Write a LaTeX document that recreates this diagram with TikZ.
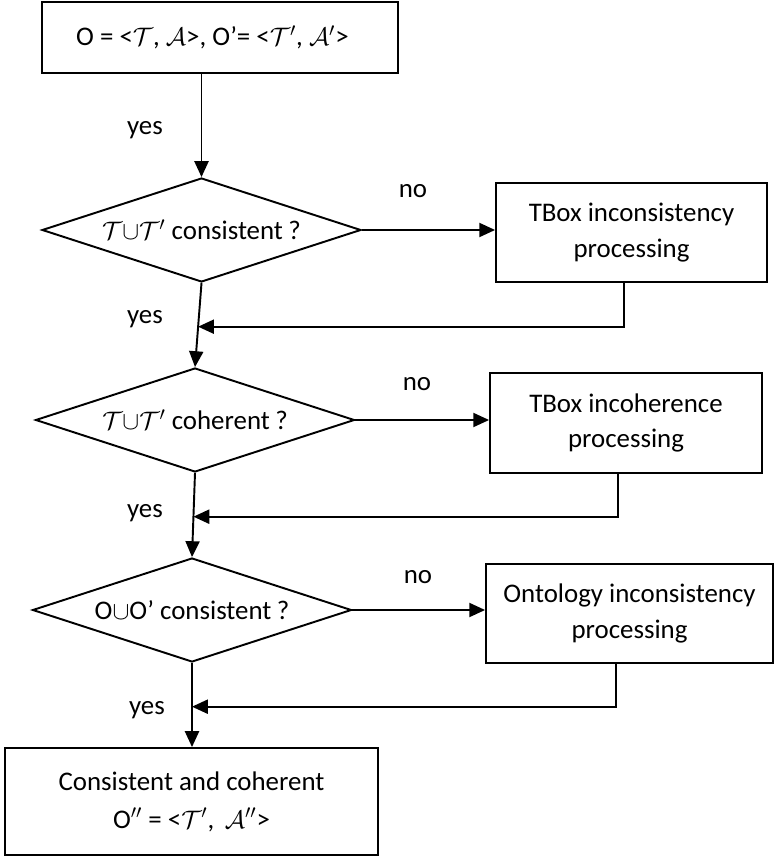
\documentclass[tikz,border=0pt]{standalone}
\usepackage{fontspec}
\setmainfont{Carlito}
\usetikzlibrary{shapes.geometric,arrows.meta,calc}

\tikzset{
  box/.style={draw, line width=1.1pt, align=center, inner sep=0pt},
  decision/.style={draw, diamond, aspect=3, inner sep=0pt, line width=1.1pt,
    minimum width=6.38cm, minimum height=2.08cm},
  flow/.style={line width=1.1pt, -{Triangle[length=9pt,width=8pt]}},
  tag/.style={inner sep=0pt}
}

\begin{document}
\begin{tikzpicture}[x=0.02cm, y=-0.02cm, font=\fontsize{15.3}{20}\selectfont]

\useasboundingbox (0,0) rectangle (777,857);

% Start and result boxes
\node[box, minimum width=7.12cm, minimum height=1.42cm] (start) at (220,37.5)
  {O = <$\mathcal{T}$, $\mathcal{A}$>, O’= <$\mathcal{T}'$, $\mathcal{A}'$>\hspace*{0.3cm}};
\node[box, minimum width=7.46cm, minimum height=2.14cm] (result) at (191.5,801.5)
  {Consistent and coherent\\[1.5pt]O$''$ = <$\mathcal{T}'$,\, $\mathcal{A}''$>};

% Checks
\node[decision] (tcons) at (201.5,230) {$\mathcal{T}{\cup}\mathcal{T}'$ consistent\hspace{0.2em}?};
\node[decision] (tcoh) at (195,420) {$\mathcal{T}{\cup}\mathcal{T}'$ coherent\hspace{0.2em}?};
\node[decision] (ocons) at (192,610) {O$\cup$O’ consistent\hspace{0.2em}?};

% Repair steps
\node[box, minimum width=5.42cm, minimum height=1.98cm] (fixtcons) at (631.5,232.5)
  {TBox inconsistency\\processing};
\node[box, minimum width=5.44cm, minimum height=2.0cm] (fixtcoh) at (626,423)
  {TBox incoherence\\processing};
\node[box, minimum width=5.74cm, minimum height=1.98cm] (fixocons) at (629.5,613.5)
  {Ontology inconsistency\\processing};

% Labels
\node[tag] (yes0) at (145,130) {yes};
\node[tag] (yes1) at (145,319) {yes};
\node[tag] (yes2) at (145,513) {yes};
\node[tag] (yes3) at (147,710) {yes};
\node[tag] (no1) at (413,191) {no};
\node[tag] (no2) at (417,384) {no};
\node[tag] (no3) at (418,577) {no};

% Main flow
\draw[flow] (start.south -| tcons.north) -- (tcons.north);
\draw[flow] (tcons.south) -- (tcoh.north);
\draw[flow] (tcoh.south) -- (ocons.north);
\draw[flow] (ocons.south) -- (result.north -| ocons.south);

% Branches to the repair steps
\draw[flow] (tcons.east) -- (tcons.east -| fixtcons.west);
\draw[flow] (tcoh.east) -- (tcoh.east -| fixtcoh.west);
\draw[flow] (ocons.east) -- (ocons.east -| fixocons.west);

% Back to the main flow
\coordinate (join1) at ($(tcons.south)!0.52!(tcoh.north)$);
\coordinate (join2) at ($(tcoh.south)!0.52!(ocons.north)$);
\coordinate (join3) at ($(ocons.south)!0.52!(result.north -| ocons.south)$);
\draw[flow] (fixtcons.south -| 624,0) |- (join1);
\draw[flow] (fixtcoh.south -| 618,0) |- (join2);
\draw[flow] (fixocons.south -| 616,0) |- (join3);

\end{tikzpicture}
\end{document}
